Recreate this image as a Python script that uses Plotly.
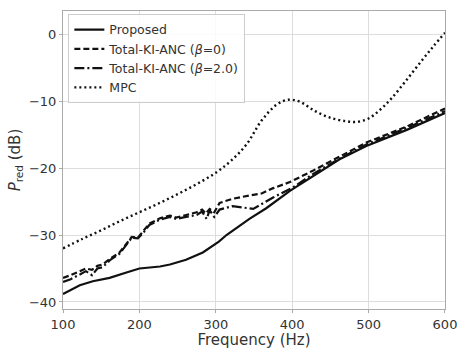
import plotly.graph_objects as go

# Proposed
f_prop = [100, 110, 122, 139, 161, 183, 200, 227, 240, 261, 283, 304, 314, 344, 366, 397, 427, 462, 497, 550, 600]
v_prop = [-38.8, -38.2, -37.5, -36.9, -36.4, -35.6, -35.0, -34.7, -34.4, -33.7, -32.6, -31.0, -30.0, -27.6, -26.0, -23.4, -21.2, -18.7, -16.7, -14.3, -11.8]

# Total-KI-ANC (beta=0)
f_b0 = [100, 110, 122, 130, 138, 145, 152, 161, 174, 185, 190, 198, 205, 213, 227, 240, 248, 261, 275, 282, 287, 292, 298, 305, 322, 344, 360, 375, 397, 427, 462, 497, 550, 600]
v_b0 = [-36.4, -36.0, -35.4, -35.0, -35.2, -34.6, -34.4, -33.6, -32.6, -31.0, -30.3, -30.4, -29.5, -28.3, -27.5, -27.1, -27.4, -27.0, -26.6, -26.2, -26.8, -26.1, -26.6, -25.2, -24.6, -24.1, -23.8, -23.0, -22.1, -20.4, -18.3, -16.2, -13.8, -11.1]

# Total-KI-ANC (beta=2.0)
f_b2 = [100, 110, 122, 130, 138, 145, 152, 161, 174, 185, 190, 198, 205, 213, 227, 240, 248, 261, 275, 282, 288, 292, 298, 305, 322, 349, 375, 401, 427, 462, 497, 550, 600]
v_b2 = [-37.0, -36.6, -35.9, -35.4, -36.0, -35.0, -34.8, -33.8, -32.8, -31.2, -30.4, -30.5, -29.7, -28.5, -27.7, -27.3, -27.6, -27.3, -27.0, -26.5, -27.6, -26.3, -27.3, -26.2, -25.7, -26.1, -24.4, -22.9, -20.9, -18.6, -16.5, -14.0, -11.5]

# MPC
f_mpc = [100, 125, 150, 175, 200, 225, 250, 275, 300, 320, 340, 360, 380, 395, 410, 430, 450, 470, 485, 500, 515, 530, 550, 570, 585, 600]
v_mpc = [-32.0, -30.6, -29.3, -27.9, -26.6, -25.3, -23.9, -22.4, -20.7, -18.9, -16.5, -12.9, -10.5, -9.8, -10.1, -11.5, -12.5, -13.0, -13.1, -12.6, -11.3, -9.6, -6.8, -3.9, -1.8, 0.2]

x_ticks = [100, 200, 300, 400, 500, 600]
y_ticks = [0, -10, -20, -30, -40]

FONT = "DejaVu Sans"
TXT = "#333333"
LC = "#111111"

fig = go.Figure()
fig.add_trace(go.Scatter(x=f_prop, y=v_prop, mode="lines", name="Proposed",
                         line=dict(color=LC, width=2.2, dash="solid")))
fig.add_trace(go.Scatter(x=f_b0, y=v_b0, mode="lines", name="Total-KI-ANC (<i>β</i>=0)",
                         line=dict(color=LC, width=2.2, dash="6px,3px")))
fig.add_trace(go.Scatter(x=f_b2, y=v_b2, mode="lines", name="Total-KI-ANC (<i>β</i>=2.0)",
                         line=dict(color=LC, width=2.2, dash="10px,3px,2px,3px")))
fig.add_trace(go.Scatter(x=f_mpc, y=v_mpc, mode="lines", name="MPC", line_shape="spline",
                         line=dict(color=LC, width=2.4, dash="2px,3px")))

axis_common = dict(showgrid=True, gridcolor="#dddddd", gridwidth=1, zeroline=False,
                   showline=True, linecolor="#aaaaaa", linewidth=1, mirror=True,
                   ticks="outside", ticklen=3, tickcolor="#aaaaaa", automargin=False,
                   tickfont=dict(family=FONT, size=13, color=TXT))

fig.update_layout(
    width=457, height=349,
    margin=dict(l=63, r=12, t=11, b=40),
    plot_bgcolor="white", paper_bgcolor="white",
    font=dict(family=FONT, color=TXT),
    xaxis=dict(range=[99.99, 600.01], tickvals=x_ticks, ticklabeloverflow="allow",
               title=dict(text="Frequency (Hz)", font=dict(family=FONT, size=15, color=TXT), standoff=4),
               **axis_common),
    yaxis=dict(range=[-41.05, 3.45], tickvals=y_ticks,
               title=dict(text="<i>P</i><sub>red</sub> (dB)", font=dict(family=FONT, size=15, color=TXT), standoff=4),
               **axis_common),
    legend=dict(x=0.014, y=0.99, xanchor="left", yanchor="top",
                bgcolor="rgba(255,255,255,0.85)", bordercolor="#cccccc", borderwidth=1,
                font=dict(family=FONT, size=12.5, color=TXT), tracegroupgap=0,
                itemwidth=30),
    showlegend=True,
)

fig.write_html("out.html", config={"displayModeBar": False},
               post_script="document.body.style.margin='0';document.body.style.overflow='hidden';")
